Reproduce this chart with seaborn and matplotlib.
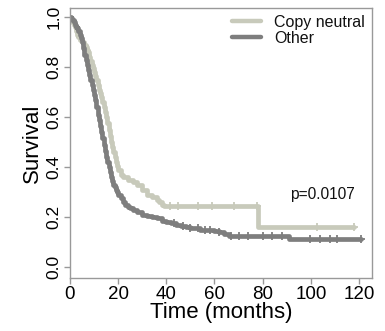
import numpy as np
import pandas as pd
import matplotlib
matplotlib.use("Agg")
import matplotlib.pyplot as plt
import seaborn as sns
from matplotlib.lines import Line2D

# ---- data ----
groups = ["Copy neutral", "Other"]
cn_time = [0, 0.5, 1, 1.5, 2, 2.5, 3, 3.5, 4, 5, 6, 6.5, 7, 7.5, 8, 8.5, 9, 9.5, 10,
           10.5, 11, 11.5, 12, 12.5, 13, 13.5, 14, 14.5, 15, 15.5, 16, 16.5, 17, 17.5,
           18, 18.5, 19, 19.5, 20, 21, 22, 24, 26, 28, 30, 32, 34, 36, 37, 38, 39, 78, 118]
cn_surv = [1.0, 0.99, 0.98, 0.97, 0.96, 0.945, 0.93, 0.92, 0.91, 0.90, 0.89, 0.88, 0.87,
           0.86, 0.84, 0.825, 0.81, 0.795, 0.78, 0.765, 0.75, 0.73, 0.71, 0.695, 0.68,
           0.66, 0.64, 0.62, 0.60, 0.575, 0.55, 0.525, 0.50, 0.48, 0.46, 0.44, 0.42,
           0.405, 0.39, 0.37, 0.36, 0.35, 0.34, 0.33, 0.31, 0.29, 0.28, 0.27, 0.26, 0.25,
           0.244, 0.16, 0.16]
cn_censor = [41.5, 45, 53, 59, 68, 77.5, 102.5, 118]

ot_time = [0, 0.5, 1, 1.5, 2, 2.5, 3, 3.5, 4, 4.5, 5, 5.5, 6, 6.5, 7, 7.5, 8, 8.5, 9,
           9.5, 10, 10.5, 11, 11.5, 12, 12.5, 13, 13.5, 14, 14.5, 15, 15.5, 16, 16.5, 17,
           17.5, 18, 18.5, 19, 19.5, 20, 21, 22, 23, 24, 25, 26, 28, 30, 32, 34, 36, 38,
           40, 42, 44, 46, 48, 50, 52, 54, 56, 58, 60, 62, 64, 66, 91, 121]
ot_surv = [1.0, 0.995, 0.99, 0.98, 0.97, 0.96, 0.955, 0.945, 0.93, 0.915, 0.90, 0.875,
           0.85, 0.83, 0.81, 0.79, 0.77, 0.75, 0.73, 0.71, 0.69, 0.67, 0.64, 0.61, 0.59,
           0.565, 0.54, 0.515, 0.49, 0.465, 0.44, 0.42, 0.40, 0.38, 0.36, 0.345, 0.33,
           0.32, 0.31, 0.30, 0.29, 0.275, 0.26, 0.25, 0.24, 0.235, 0.23, 0.22, 0.21,
           0.205, 0.20, 0.195, 0.185, 0.18, 0.175, 0.17, 0.165, 0.16, 0.158, 0.155, 0.15,
           0.15, 0.148, 0.145, 0.14, 0.132, 0.124, 0.112, 0.112]
ot_censor = [43, 47, 50, 53, 56, 58, 62, 67, 70, 74, 80, 84, 88, 99.6, 104, 108, 111, 121]

x_ticks = [0, 20, 40, 60, 80, 100, 120]
y_ticks = [0.0, 0.2, 0.4, 0.6, 0.8, 1.0]
p_text = "p=0.0107"

colors = {"Copy neutral": "#c8cabb", "Other": "#7e7e7e"}

sns.set_style("white")
plt.rcParams["font.family"] = ["Liberation Sans", "DejaVu Sans"]

fig = plt.figure(figsize=(3.85, 3.31), dpi=100)
ax = fig.add_axes([69.5 / 385, 1 - 278 / 331, (372 - 69.5) / 385, (278 - 8) / 331])

series = [("Copy neutral", cn_time, cn_surv, cn_censor),
          ("Other", ot_time, ot_surv, ot_censor)]
for name, t, s, c in series:
    df = pd.DataFrame({"time": t, "surv": s})
    sns.lineplot(data=df, x="time", y="surv", ax=ax, drawstyle="steps-post",
                 estimator=None, sort=False, color=colors[name], lw=3.4)
    t_arr = np.array(t)
    s_arr = np.array(s)
    idx = np.searchsorted(t_arr, np.array(c), side="right") - 1
    cdf = pd.DataFrame({"time": c, "surv": s_arr[idx]})
    sns.scatterplot(data=cdf, x="time", y="surv", ax=ax, marker="+", s=30,
                    color=colors[name], linewidth=1.3, zorder=3)

ax.set_xlim(-0.2, 125.4)
ax.set_ylim(-0.044, 1.036)
ax.set_xticks(x_ticks)
ax.set_yticks(y_ticks)
ax.set_xticklabels([str(v) for v in x_ticks], fontsize=13.5)
ax.set_yticklabels([f"{v:.1f}" for v in y_ticks], fontsize=12.5, rotation=90, va="center")
ax.tick_params(axis="both", direction="out", length=4, width=1, color="#999999",
               labelcolor="#000000", pad=2, bottom=True, left=True)
for sp in ax.spines.values():
    sp.set_color("#999999")
    sp.set_linewidth(1)
ax.set_xlabel("Time (months)", fontsize=16, labelpad=-1, color="#000000")
ax.set_ylabel("Survival", fontsize=16, labelpad=2, color="#000000")

ax.text(355 / 385, 1 - 195 / 331, p_text, transform=fig.transFigure,
        ha="right", va="center", fontsize=11.2, color="#111111")

handles = [Line2D([], [], color=colors[g], lw=3.2) for g in groups]
leg = ax.legend(handles, groups, loc="upper left",
                bbox_to_anchor=(232 / 385, 1 - 15 / 331),
                bbox_transform=fig.transFigure, frameon=False, fontsize=11.5,
                handlelength=1.8, handletextpad=0.85, labelspacing=0.05,
                borderpad=0, borderaxespad=0)
for tx in leg.get_texts():
    tx.set_color("#111111")

fig.savefig("out.png", dpi=100)
